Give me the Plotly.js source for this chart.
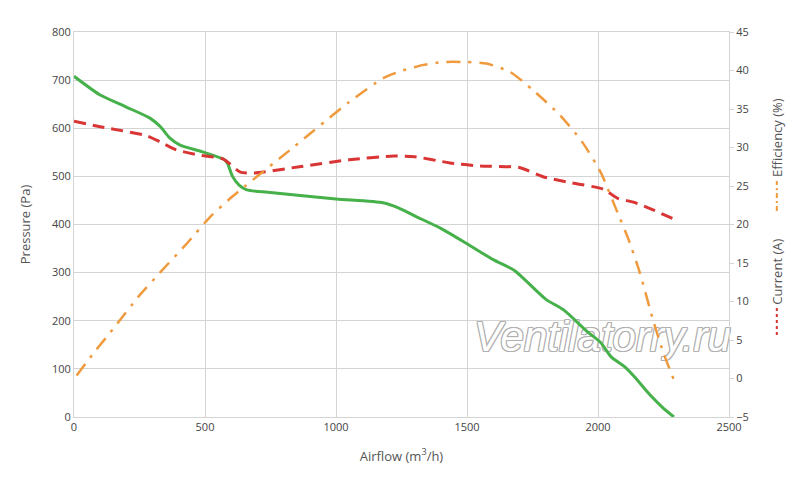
<!DOCTYPE html>
<html>
<head>
<meta charset="utf-8">
<script src="https://cdn.plot.ly/plotly-3.0.1.min.js"></script>
<style>
  html, body { margin: 0; padding: 0; background: #fff; }
  #chart { width: 800px; height: 482px; }
</style>
</head>
<body>
<div id="chart"></div>
<script>
// pressure curve (Pa) vs airflow (m3/h)
var pressFlow = [0, 100, 200, 290, 330, 365, 405, 490, 570, 585, 605, 630, 660, 740, 1000, 1180, 1240, 1300, 1400, 1500, 1600, 1680, 1800, 1870, 1960, 2010, 2050, 2100, 2140, 2200, 2250, 2290];
var pressure  = [708, 669, 644, 621, 603, 580, 565, 551, 536, 528, 500, 482, 472, 467, 453, 445, 434, 418, 392, 360, 327, 305, 245, 222, 177, 155, 125, 105, 83, 45, 18, 0];

// current (A)
var currFlow = [0, 100, 280, 330, 390, 480, 570, 635, 690, 860, 1050, 1220, 1300, 1435, 1550, 1700, 1790, 1900, 2020, 2075, 2135, 2210, 2290];
var current  = [33.4, 32.7, 31.5, 30.7, 29.7, 29.0, 28.5, 26.8, 26.7, 27.5, 28.4, 28.9, 28.8, 28.0, 27.6, 27.4, 26.2, 25.4, 24.6, 23.4, 22.9, 21.9, 20.7];

// efficiency (%)
var effFlow   = [10, 75, 160, 245, 335, 430, 520, 600, 650, 840, 1050, 1180, 1245, 1330, 1410, 1500, 1575, 1665, 1750, 1855, 1940, 2010, 2075, 2115, 2160, 2210, 2250, 2290];
var efficiency = [0.4, 3.3, 6.9, 10.6, 14.0, 17.5, 21.0, 23.5, 24.9, 30.1, 35.9, 39.0, 39.9, 40.7, 41.1, 41.1, 40.9, 39.8, 37.5, 34.2, 30.7, 26.8, 21.5, 18.2, 13.7, 7.6, 3.3, -0.2];

var watermark = 'Ventilatorry.ru';

var fontFam = '"Open Sans", "Noto Sans", sans-serif';
var green = '#46b04b';
var red = '#d93535';
var orange = '#f09a3e';

var outline = '1px 1px 0 #b0b0b0, -1px -1px 0 #b0b0b0, 1px -1px 0 #b0b0b0, -1px 1px 0 #b0b0b0, 0 1px 0 #b0b0b0, 0 -1px 0 #b0b0b0, 1px 0 0 #b0b0b0, -1px 0 0 #b0b0b0';

var data = [
  {
    x: [2017], y: [160],
    mode: 'text', text: [watermark],
    textfont: { family: '"Liberation Sans", Arial, sans-serif', size: 42, color: '#ffffff', style: 'italic', shadow: outline },
    hoverinfo: 'skip', showlegend: false, cliponaxis: false
  },
  {
    x: pressFlow, y: pressure,
    mode: 'lines', line: { color: green, width: 3, shape: 'spline', smoothing: 0.6 },
    name: 'Pressure'
  },
  {
    x: currFlow, y: current, yaxis: 'y2',
    mode: 'lines', line: { color: red, width: 3, dash: '12px,7px', shape: 'spline', smoothing: 0.6 },
    name: 'Current'
  },
  {
    x: effFlow, y: efficiency, yaxis: 'y2',
    mode: 'lines', line: { color: orange, width: 2.5, dash: '14px,8px,3px,8px', shape: 'spline', smoothing: 0.6 },
    name: 'Efficiency'
  }
];

var layout = {
  width: 800, height: 482,
  margin: { l: 74, r: 71, t: 32, b: 65 },
  paper_bgcolor: '#fff', plot_bgcolor: '#fff',
  showlegend: false,
  font: { family: fontFam, size: 11, color: '#444' },
  xaxis: {
    range: [0, 2500], dtick: 500,
    showgrid: true, gridcolor: '#d4d4d4', gridwidth: 1,
    zeroline: false, showline: true, linecolor: '#d4d4d4', mirror: true,
    ticks: '', tickfont: { size: 11, color: '#444' },
    title: { text: 'Airflow (m<sup>3</sup>/h)', font: { size: 13, color: '#555' }, standoff: 18 }
  },
  yaxis: {
    range: [0, 800], dtick: 100,
    showgrid: true, gridcolor: '#d4d4d4', gridwidth: 1,
    zeroline: false, showline: true, linecolor: '#d4d4d4', mirror: true,
    ticks: '', tickfont: { size: 11, color: '#444' },
    title: { text: 'Pressure (Pa)', font: { size: 13, color: '#555' }, standoff: 18 }
  },
  yaxis2: {
    overlaying: 'y', side: 'right',
    range: [-5, 45], dtick: 5,
    showgrid: false, zeroline: false,
    showline: true, linecolor: '#d4d4d4',
    ticks: 'outside', ticklen: 4, tickcolor: '#d4d4d4',
    tickfont: { size: 11, color: '#444' }
  },
  annotations: [
    {
      xref: 'paper', yref: 'paper', x: 1.073, y: 0.727,
      xanchor: 'center', yanchor: 'middle',
      text: 'Efficiency (%)', textangle: -90, showarrow: false,
      font: { size: 13, color: '#555' }
    },
    {
      xref: 'paper', yref: 'paper', x: 1.073, y: 0.377,
      xanchor: 'center', yanchor: 'middle',
      text: 'Current (A)', textangle: -90, showarrow: false,
      font: { size: 13, color: '#555' }
    }
  ],
  shapes: [
    {
      type: 'line', xref: 'paper', yref: 'paper',
      x0: 1.073, x1: 1.073, y0: 0.535, y1: 0.613,
      line: { color: orange, width: 2, dash: '5px,3px,2px,3px' }
    },
    {
      type: 'line', xref: 'paper', yref: 'paper',
      x0: 1.073, x1: 1.073, y0: 0.213, y1: 0.283,
      line: { color: red, width: 2, dash: 'dot' }
    }
  ]
};

Plotly.newPlot('chart', data, layout, { displayModeBar: false, staticPlot: true });
</script>
</body>
</html>
